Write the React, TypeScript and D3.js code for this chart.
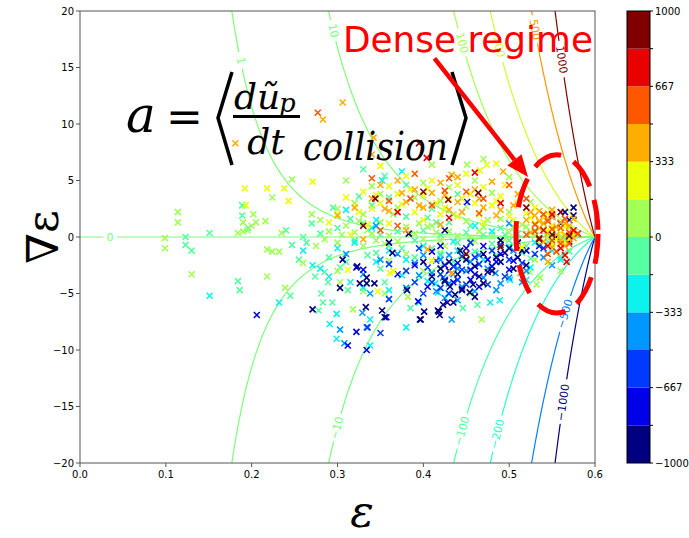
import React from 'react';
import * as d3 from 'd3';

// axes
const epsTicks = [0, 0.1, 0.2, 0.3, 0.4, 0.5, 0.6];
const gradTicks = [-20, -15, -10, -5, 0, 5, 10, 15, 20];

// contour levels of the collision term and where their labels sit (in eps)
const contourLevels = [-1000, -500, -200, -100, -10, -1, 0, 1, 10, 100, 200, 500, 1000];
const labelLevels = [0, 1, 10, 100, 200, 500, 1000, -10, -100, -200, -500, -1000];
const labelEps = [0.035, 0.187, 0.295, 0.445, 0.488, 0.53, 0.561, 0.2995, 0.445, 0.486, 0.565, 0.563];

// colorbar
const cbarTicks = [1000, 667, 333, 0, -333, -667, -1000];
const cbarBins = 12;

// field model a = C * eps^4 / (epsMax - eps)^m * gradEps (fitted to the contour crossings)
const fieldC = 20.5;
const fieldM = 1.062;
const epsMax = 0.6;

// scatter points, one array per colour bin: [eps, gradEps]
const navyPts = [[0.306,-2.0],[0.303,-4.5],[0.326,-4.1],[0.334,-4.1],[0.343,-4.1],[0.381,-4.7],[0.401,-6.6],[0.397,-7.3],[0.271,-6.4],[0.333,-6.2],[0.352,-6.5],[0.417,-6.5],[0.423,-6.0],[0.419,-6.9],[0.435,-5.8],[0.437,-5.1],[0.470,-4.1],[0.458,-4.2],[0.454,-4.9],[0.431,-4.4],[0.47,-1.5],[0.49,-2.2],[0.50,-1.0],[0.48,-3.0],[0.46,-2.6],[0.44,-3.3],[0.45,-2.0],[0.51,-1.8],[0.52,-2.5],[0.42,-2.8],[0.41,-3.5],[0.40,-2.2],[0.565,2.2],[0.57,1.5],[0.575,2.6],[0.56,1.2],[0.58,0.3],[0.555,0.0],[0.57,-0.4],[0.323,-2.6],[0.334,-3.6],[0.355,-7.1],[0.396,-7.3],[0.418,-6.6],[0.428,-5.8],[0.46,-5.3],[0.51,-0.5],[0.49,-0.3],[0.465,-3.5],[0.485,-1.8],[0.505,-2.8],[0.443,-1.2],[0.383,0.3],[0.36,-0.5],[0.364,-1.4],[0.425,0.6],[0.445,-4.6],[0.475,-3.1],[0.495,-1.4],[0.515,-1.2],[0.425,-3.9],[0.55,1.8],[0.575,1.9],[0.43,-2.2]];
const bluePts = [[0.206,-6.9],[0.394,-5.7],[0.357,-7.1],[0.322,-8.4],[0.312,-9.6],[0.334,-10.0],[0.445,-4.7],[0.43,-3.0],[0.46,-3.3],[0.48,-2.6],[0.50,-2.9],[0.44,-2.3],[0.47,-0.8],[0.49,-1.5],[0.41,-1.3],[0.52,-1.2],[0.39,-2.5],[0.322,-2.7],[0.330,-2.9],[0.42,-0.8],[0.45,-1.0],[0.451,3.1],[0.455,-3.8],[0.475,-2.0],[0.435,-4.0],[0.37,-3.3],[0.535,-0.8],[0.455,-2.9],[0.485,-2.2],[0.425,-2.5],[0.465,-4.4],[0.405,-4.4],[0.505,-2.1]];
const royalPts = [[0.41,-4.0],[0.42,-4.5],[0.43,-5.0],[0.44,-3.8],[0.45,-4.2],[0.40,-5.0],[0.39,-4.0],[0.46,-1.8],[0.48,-1.2],[0.50,-2.0],[0.51,-0.5],[0.53,-1.5],[0.42,-3.3],[0.38,-3.0],[0.36,-5.5],[0.335,-8.0],[0.35,-8.5],[0.465,-2.4],[0.445,-2.9],[0.425,-3.8],[0.495,-3.5],[0.515,-2.3],[0.54,-1.0],[0.405,-2.7],[0.455,-0.5],[0.395,-1.0],[0.36,-2.4],[0.445,-1.7],[0.475,-4.2],[0.435,-2.6],[0.415,-2.1],[0.49,-0.7]];
const skyPts = [[0.338,-5.0],[0.303,-8.2],[0.329,-6.7],[0.334,-8.0],[0.308,-9.4],[0.433,-7.3],[0.440,-5.6],[0.484,-3.2],[0.423,-3.6],[0.41,-3.2],[0.43,-4.1],[0.44,-2.8],[0.46,-4.8],[0.47,-3.6],[0.49,-4.1],[0.45,-3.0],[0.42,-2.0],[0.40,-1.6],[0.38,-4.5],[0.50,-3.6],[0.52,-3.0],[0.54,-1.8],[0.55,-2.5],[0.37,-1.5],[0.35,-2.0],[0.33,-3.3],[0.31,-1.5],[0.455,-2.2],[0.475,-2.8],[0.415,-4.8],[0.395,-3.4],[0.505,-1.2],[0.345,1.0],[0.5,1.2],[0.43,-1.6],[0.435,-3.3],[0.465,-1.6],[0.485,-4.7],[0.425,-5.4],[0.445,-4.4],[0.515,-4.0],[0.39,-2.3]];
const cyanPts = [[0.151,-5.2],[0.271,-2.5],[0.232,-5.8],[0.299,-6.8],[0.291,-7.7],[0.338,-7.3],[0.338,-9.6],[0.299,-9.0],[0.380,-8.0],[0.352,5.0],[0.375,5.8],[0.417,-4.9],[0.429,-5.0],[0.414,-4.1],[0.478,-5.8],[0.489,-5.6],[0.501,-3.8],[0.36,-1.2],[0.38,-2.0],[0.40,-0.8],[0.42,-1.6],[0.30,-1.0],[0.32,-0.5],[0.34,0.8],[0.44,-1.2],[0.47,-2.0],[0.50,-0.9],[0.53,-0.5],[0.55,-1.2],[0.33,-4.5],[0.36,-4.7],[0.28,-2.8],[0.26,-1.2],[0.31,2.4],[0.345,1.5],[0.46,1.0],[0.48,0.5],[0.56,-2.0],[0.52,-3.8],[0.395,-5.8],[0.29,-3.5],[0.315,-4.0],[0.435,-0.4],[0.455,-2.9],[0.375,-3.4],[0.405,-3.9],[0.525,-2.7],[0.345,-2.2]];
const mintPts = [[0.123,0],[0.123,-0.7],[0.130,-1.2],[0.151,0.35],[0.184,-3.9],[0.186,-4.7],[0.189,2.8],[0.196,0.8],[0.189,1.9],[0.247,-0.7],[0.264,-0.5],[0.274,-3.5],[0.285,-3.1],[0.289,-4.0],[0.303,-2.7],[0.312,-4.7],[0.355,-4.0],[0.385,-6.3],[0.281,-5.0],[0.283,-5.8],[0.294,-5.8],[0.278,-6.5],[0.245,-5.2],[0.446,-6.3],[0.463,-6.0],[0.28,0.3],[0.30,0.8],[0.32,-0.3],[0.33,1.2],[0.35,0.2],[0.36,-0.8],[0.37,0.5],[0.38,1.8],[0.39,-0.3],[0.40,0.6],[0.41,-1.0],[0.42,0.2],[0.43,1.3],[0.44,-0.5],[0.45,0.4],[0.46,-1.3],[0.47,0.2],[0.48,-0.6],[0.49,0.8],[0.50,-0.3],[0.51,0.3],[0.52,-0.8],[0.53,0.6],[0.54,-1.0],[0.55,-0.3],[0.56,-1.8],[0.57,-1.3],[0.34,2.8],[0.36,3.5],[0.38,4.6],[0.41,2.5],[0.44,3.8],[0.29,-1.8],[0.31,-2.2],[0.35,-2.8],[0.39,-1.8],[0.27,1.2],[0.26,0.0],[0.24,0.6],[0.255,-2.0],[0.315,1.6],[0.345,-1.4],[0.405,1.7],[0.435,-2.2],[0.485,-1.6],[0.525,-1.9],[0.295,2.6],[0.325,3.6],[0.355,5.4],[0.33,6.0],[0.335,-1.6],[0.375,-1.0],[0.415,1.3],[0.455,1.0],[0.495,0.2],[0.515,-1.4],[0.545,-0.5],[0.565,-0.2]];
const limePts = [[0.114,2.2],[0.114,1.3],[0.099,-0.1],[0.099,-1.0],[0.130,-3.3],[0.202,2.0],[0.216,1.4],[0.205,1.3],[0.184,0.35],[0.190,0.5],[0.200,1.0],[0.190,1.3],[0.218,-1.1],[0.218,-3.5],[0.195,0.6],[0.235,0.35],[0.224,-1.3],[0.232,-1.3],[0.260,-2.3],[0.303,-4.0],[0.355,-5.0],[0.382,-5.3],[0.239,-4.5],[0.318,-6.4],[0.468,-7.3],[0.532,-4.2],[0.536,-3.6],[0.524,-3.1],[0.451,6.4],[0.247,5.1],[0.224,3.5],[0.27,2.0],[0.28,1.5],[0.29,0.5],[0.30,-0.5],[0.31,1.0],[0.32,0.4],[0.33,-0.8],[0.34,0.3],[0.35,1.3],[0.36,0.1],[0.37,-0.4],[0.38,0.9],[0.39,0.3],[0.40,-0.2],[0.41,1.0],[0.42,-0.3],[0.43,0.5],[0.44,0.1],[0.45,1.4],[0.46,-0.4],[0.47,0.9],[0.48,0.2],[0.49,1.6],[0.50,0.4],[0.51,-0.6],[0.52,0.9],[0.53,0.1],[0.54,0.7],[0.55,0.3],[0.56,-0.5],[0.57,0.8],[0.30,2.5],[0.32,3.0],[0.33,2.0],[0.35,3.8],[0.37,2.6],[0.39,3.5],[0.40,4.8],[0.42,3.2],[0.43,4.4],[0.45,2.7],[0.46,5.0],[0.48,3.9],[0.50,5.3],[0.38,-1.5],[0.40,-3.0],[0.33,-4.8],[0.30,-3.0],[0.275,-0.8],[0.42,-1.4],[0.36,-2.1],[0.445,-1.9],[0.53,-2.0],[0.50,2.2],[0.525,3.1],[0.285,-0.2],[0.305,0.2],[0.325,1.4],[0.345,-0.3],[0.365,2.0],[0.395,1.2],[0.415,0.4],[0.435,2.0],[0.455,-0.1],[0.475,1.5],[0.495,-0.2],[0.515,1.1],[0.31,5.0],[0.34,4.5],[0.47,6.9],[0.41,6.4],[0.455,-5.0],[0.56,-3.0],[0.335,0.6],[0.355,-0.6],[0.385,0.2],[0.405,0.9],[0.425,-0.8],[0.465,0.5],[0.505,0.9],[0.535,-0.6],[0.545,0.0]];
const yellowPts = [[0.192,4.3],[0.218,4.3],[0.271,4.9],[0.243,3.2],[0.238,4.3],[0.193,2.8],[0.474,6.4],[0.485,6.5],[0.466,5.9],[0.312,-2.9],[0.347,-4.8],[0.361,-3.2],[0.365,-3.0],[0.31,3.5],[0.33,4.0],[0.34,2.5],[0.35,3.0],[0.36,4.5],[0.37,3.8],[0.38,5.4],[0.39,2.2],[0.40,3.7],[0.41,5.0],[0.42,2.0],[0.43,3.4],[0.44,4.6],[0.45,5.6],[0.46,3.0],[0.47,4.4],[0.48,2.8],[0.49,3.6],[0.50,1.8],[0.51,3.0],[0.52,2.1],[0.53,1.2],[0.54,1.7],[0.55,1.0],[0.56,0.4],[0.57,-0.2],[0.55,-0.6],[0.53,2.6],[0.29,1.3],[0.315,0.2],[0.36,1.2],[0.40,1.5],[0.44,1.8],[0.47,1.3],[0.35,6.3],[0.30,2.0],[0.385,4.2],[0.415,3.0],[0.455,3.8],[0.495,4.6],[0.545,0.6],[0.565,0.9],[0.335,1.1],[0.41,-2.1],[0.515,-0.9],[0.325,2.2],[0.345,3.7],[0.375,2.9],[0.405,4.3],[0.425,2.6],[0.445,3.4],[0.465,2.0],[0.485,3.2],[0.505,1.5],[0.525,1.7],[0.545,2.1],[0.555,-0.2],[0.575,0.3],[0.565,-0.5]];
const orangePts = [[0.283,10.4],[0.306,11.9],[0.342,8.8],[0.340,7.3],[0.433,5.5],[0.440,5.3],[0.493,5.8],[0.513,-3.2],[0.433,-3.2],[0.545,-2.2],[0.32,2.6],[0.34,3.4],[0.35,4.6],[0.36,2.3],[0.37,5.0],[0.38,3.1],[0.39,4.2],[0.40,2.6],[0.41,3.9],[0.42,4.8],[0.43,2.4],[0.44,3.1],[0.46,4.2],[0.47,2.6],[0.48,4.9],[0.49,2.4],[0.51,3.8],[0.52,1.5],[0.53,1.9],[0.535,0.8],[0.54,1.2],[0.545,0.3],[0.55,1.8],[0.555,0.9],[0.56,1.3],[0.565,0.2],[0.57,1.0],[0.575,-0.1],[0.54,-0.4],[0.55,-0.9],[0.56,-0.3],[0.535,2.3],[0.33,-0.2],[0.38,0.6],[0.42,1.1],[0.30,1.9],[0.405,-1.1],[0.181,8.3],[0.525,0.4],[0.565,-0.8],[0.575,1.6],[0.55,2.4],[0.375,3.9],[0.395,2.8],[0.425,3.7],[0.445,2.2],[0.465,3.4],[0.485,1.9],[0.505,2.8],[0.525,2.2],[0.545,1.6],[0.555,0.2],[0.565,1.2],[0.575,0.5],[0.535,1.4],[0.355,2.5]];
const vermilionPts = [[0.277,11.0],[0.34,5.2],[0.36,3.2],[0.39,5.6],[0.41,2.8],[0.43,5.2],[0.45,4.0],[0.47,3.4],[0.50,4.6],[0.52,3.4],[0.53,0.5],[0.54,2.0],[0.55,-0.3],[0.56,0.8],[0.565,1.6],[0.57,-0.6],[0.545,1.4],[0.555,-1.3],[0.58,0.3],[0.35,0.6],[0.52,0.2],[0.37,1.0],[0.545,-1.5],[0.385,3.4],[0.425,4.1],[0.465,2.1],[0.53,1.1],[0.55,0.7],[0.56,-0.6],[0.57,0.4]];
const redPts = [[0.404,7.0],[0.56,-1.0],[0.565,-1.6],[0.567,-2.2],[0.55,2.0],[0.545,-0.8],[0.54,0.6],[0.575,0.6],[0.37,2.2],[0.43,1.7],[0.49,3.0],[0.46,5.7],[0.535,-0.1]];
const maroonPts = [[0.395,8.3],[0.344,3.4],[0.429,3.3],[0.464,3.9],[0.40,4.0],[0.52,2.6],[0.55,0.2],[0.56,2.2],[0.49,-0.9],[0.33,1.0],[0.45,-1.5],[0.57,0.1],[0.535,-0.2]];

// the value of a for each group above
const groupValues = [-917, -750, -583, -417, -250, -83, 83, 250, 417, 583, 750, 917];
const groupPts = [navyPts, bluePts, royalPts, skyPts, cyanPts, mintPts, limePts, yellowPts, orangePts, vermilionPts, redPts, maroonPts];
// drawing order (greens first, then blues, then warm)
const drawOrder = [5, 6, 4, 3, 2, 1, 0, 7, 8, 9, 10, 11];

// matplotlib jet
const jetR = d3.scaleLinear([0, 0.35, 0.66, 0.89, 1], [0, 0, 1, 1, 0.5]).clamp(true);
const jetG = d3.scaleLinear([0, 0.125, 0.375, 0.64, 0.91, 1], [0, 0, 1, 1, 0, 0]).clamp(true);
const jetB = d3.scaleLinear([0, 0.11, 0.34, 0.65, 1], [0.5, 1, 1, 0, 0]).clamp(true);
const jet = (t: number) => d3.rgb(jetR(t) * 255, jetG(t) * 255, jetB(t) * 255).formatHex();

const fEps = (e: number) => fieldC * Math.pow(e, 4) / Math.pow(epsMax - e, fieldM);
const gradFor = (level: number, e: number) => (e >= epsMax ? 0 : level / fEps(e));

const fmt = (v: number) => String(v).replace('-', '\u2212');

export default function App() {
  const W = 689, H = 538;
  const L = 80, R = 595, T = 11, B = 463;
  const x = d3.scaleLinear().domain([0, 0.6]).range([L, R]);
  const y = d3.scaleLinear().domain([-20, 20]).range([B, T]);
  const cScale = d3.scaleLinear().domain([-1000, 1000]).range([0, 1]);
  const binColor = (v: number) => {
    const i = Math.max(0, Math.min(cbarBins - 1, Math.floor(cScale(v) * cbarBins)));
    return jet(i / (cbarBins - 1));
  };

  // contour labels (pixel centre + angle)
  const labels = labelLevels.map((lev, i) => {
    const e = labelEps[i];
    const px = x(e), py = y(gradFor(lev, e));
    const dx = x(e + 0.002) - x(e - 0.002);
    const dy = y(gradFor(lev, e + 0.002)) - y(gradFor(lev, e - 0.002));
    let ang = (Math.atan2(dy, dx) * 180) / Math.PI;
    if (ang > 90) ang -= 180;
    if (ang < -90) ang += 180;
    const text = fmt(lev);
    return { lev, px, py, ang, text, r: text.length * 3.6 + 3 };
  });

  const epsSamples = d3.range(0.0, 0.6, 0.0005).concat([0.6]);
  const contours = contourLevels.map((lev) => {
    const gaps = labels.filter((l) => l.lev === lev);
    const pts = epsSamples
      .map((e) => [x(e), y(lev === 0 ? 0 : gradFor(lev, e)), lev === 0 ? 0 : gradFor(lev, e)] as [number, number, number])
      .filter((p) => Math.abs(p[2]) < 24);
    const line = d3.line<[number, number, number]>()
      .defined((p) => !gaps.some((g) => Math.hypot(p[0] - g.px, p[1] - g.py) < g.r))
      .x((p) => p[0])
      .y((p) => p[1]);
    return { lev, d: line(pts) || '', color: jet(cScale(lev)) };
  });

  // colorbar
  const cbL = 627, cbR = 650;
  const yc = d3.scaleLinear().domain([-1000, 1000]).range([B, T]);
  const cbEdges = d3.range(cbarBins + 1).map((i) => -1000 + (i * 2000) / cbarBins);

  // annotation anchors in data space
  const ell = { cx: x(0.5557), cy: y(0.27), rx: x(0.0478) - x(0), ry: y(0) - y(7.0) };
  const a0 = [x(0.413), y(15.8)], a1 = [x(0.522), y(5.3)];
  const adx = a1[0] - a0[0], ady = a1[1] - a0[1];
  const alen = Math.hypot(adx, ady);
  const ux = adx / alen, uy = ady / alen;
  const headL = 22, headW = 9;
  const hb = [a1[0] - ux * headL, a1[1] - uy * headL];
  const head = `M${a1[0]},${a1[1]}L${hb[0] - uy * headW},${hb[1] + ux * headW}L${hb[0] + uy * headW},${hb[1] - ux * headW}Z`;

  const font = 'DejaVu Sans, sans-serif';
  const serif = 'DejaVu Serif, serif';

  return (
    <svg width={W} height={H} style={{ position: 'absolute', left: 0, top: 0, background: '#fff' }}>
      <defs>
        <clipPath id="plot">
          <rect x={L} y={T} width={R - L} height={B - T} />
        </clipPath>
      </defs>

      <g clipPath="url(#plot)">
        {contours.map((c) => (
          <path key={c.lev} d={c.d} fill="none" stroke={c.color} strokeWidth={1.2} />
        ))}
        {drawOrder.map((gi) => (
          <g key={gi} stroke={binColor(groupValues[gi])} strokeWidth={1.6}>
            {groupPts[gi].map((p, j) => (
              <path key={j} d={`M${x(p[0]) - 3},${y(p[1]) - 3}l6,6m-6,0l6,-6`} />
            ))}
          </g>
        ))}
      </g>
      {labels.map((l, i) => (
        <text key={i} transform={`translate(${l.px},${l.py}) rotate(${l.ang})`} textAnchor="middle"
          dominantBaseline="central" fontSize={11} fontFamily={font} fill={jet(cScale(l.lev))}>
          {l.text}
        </text>
      ))}

      {/* frame & ticks */}
      <rect x={L} y={T} width={R - L} height={B - T} fill="none" stroke="#555" strokeWidth={1} />
      {epsTicks.map((t) => (
        <g key={t}>
          <line x1={x(t)} x2={x(t)} y1={B} y2={B + 4} stroke="#555" />
          <text x={x(t)} y={B + 15} textAnchor="middle" fontSize={10} fontFamily={font}>{t.toFixed(1)}</text>
        </g>
      ))}
      {gradTicks.map((t) => (
        <g key={t}>
          <line x1={L - 4} x2={L} y1={y(t)} y2={y(t)} stroke="#555" />
          <text x={L - 6} y={y(t)} textAnchor="end" dominantBaseline="central" fontSize={10} fontFamily={font}>{fmt(t)}</text>
        </g>
      ))}

      {/* axis labels */}
      <text transform={`translate(58,${(T + B) / 2}) rotate(-90)`} textAnchor="middle" fontSize={44} fontFamily={serif}>∇ε</text>
      <text x={362} y={527} textAnchor="middle" fontSize={44} fontFamily={serif} fontStyle="italic">ε</text>

      {/* colorbar */}
      {d3.range(cbarBins).map((i) => (
        <rect key={i} x={cbL} width={cbR - cbL} y={yc(cbEdges[i + 1])} height={yc(cbEdges[i]) - yc(cbEdges[i + 1])}
          fill={jet(i / (cbarBins - 1))} />
      ))}
      <rect x={cbL} y={T} width={cbR - cbL} height={B - T} fill="none" stroke="#000" strokeWidth={1} />
      {cbEdges.map((v, i) => (
        <line key={i} x1={cbR} x2={cbR + 3} y1={yc(v)} y2={yc(v)} stroke="#000" />
      ))}
      {cbarTicks.map((t) => (
        <text key={t} x={cbR + 5} y={yc(t)} dominantBaseline="central" fontSize={10} fontFamily={font}>{fmt(t)}</text>
      ))}

      {/* formula */}
      <g fill="#000" fontFamily={serif} fontStyle="italic">
        <text x={126} y={132} fontSize={50}>a</text>
        <text x={166} y={132} fontSize={44} fontStyle="normal">=</text>
        <path d="M232,72L218,118L232,165" fill="none" stroke="#000" strokeWidth={3.5} />
        <text x={234} y={109} fontSize={36}>dũ</text>
        <text x={279} y={112} fontSize={26}>p</text>
        <rect x={233} y={115} width={67} height={3} />
        <text x={266} y={154} fontSize={36} textAnchor="middle">dt</text>
        <text x={303} y={160} fontSize={40} textLength={145} lengthAdjust="spacingAndGlyphs">collision</text>
        <path d="M452,72L466,118L452,165" fill="none" stroke="#000" strokeWidth={3.5} />
      </g>

      {/* annotation */}
      <text x={343} y={52} fontSize={35} fontFamily={font} fill="#ff0000" textLength={250} lengthAdjust="spacingAndGlyphs">Dense regime</text>
      <line x1={a0[0]} y1={a0[1]} x2={hb[0]} y2={hb[1]} stroke="#ff0000" strokeWidth={4.5} />
      <path d={head} fill="#ff0000" />
      <ellipse cx={ell.cx} cy={ell.cy} rx={ell.rx} ry={ell.ry} fill="none" stroke="#ff0000" strokeWidth={5} strokeDasharray="30 14" />
    </svg>
  );
}
